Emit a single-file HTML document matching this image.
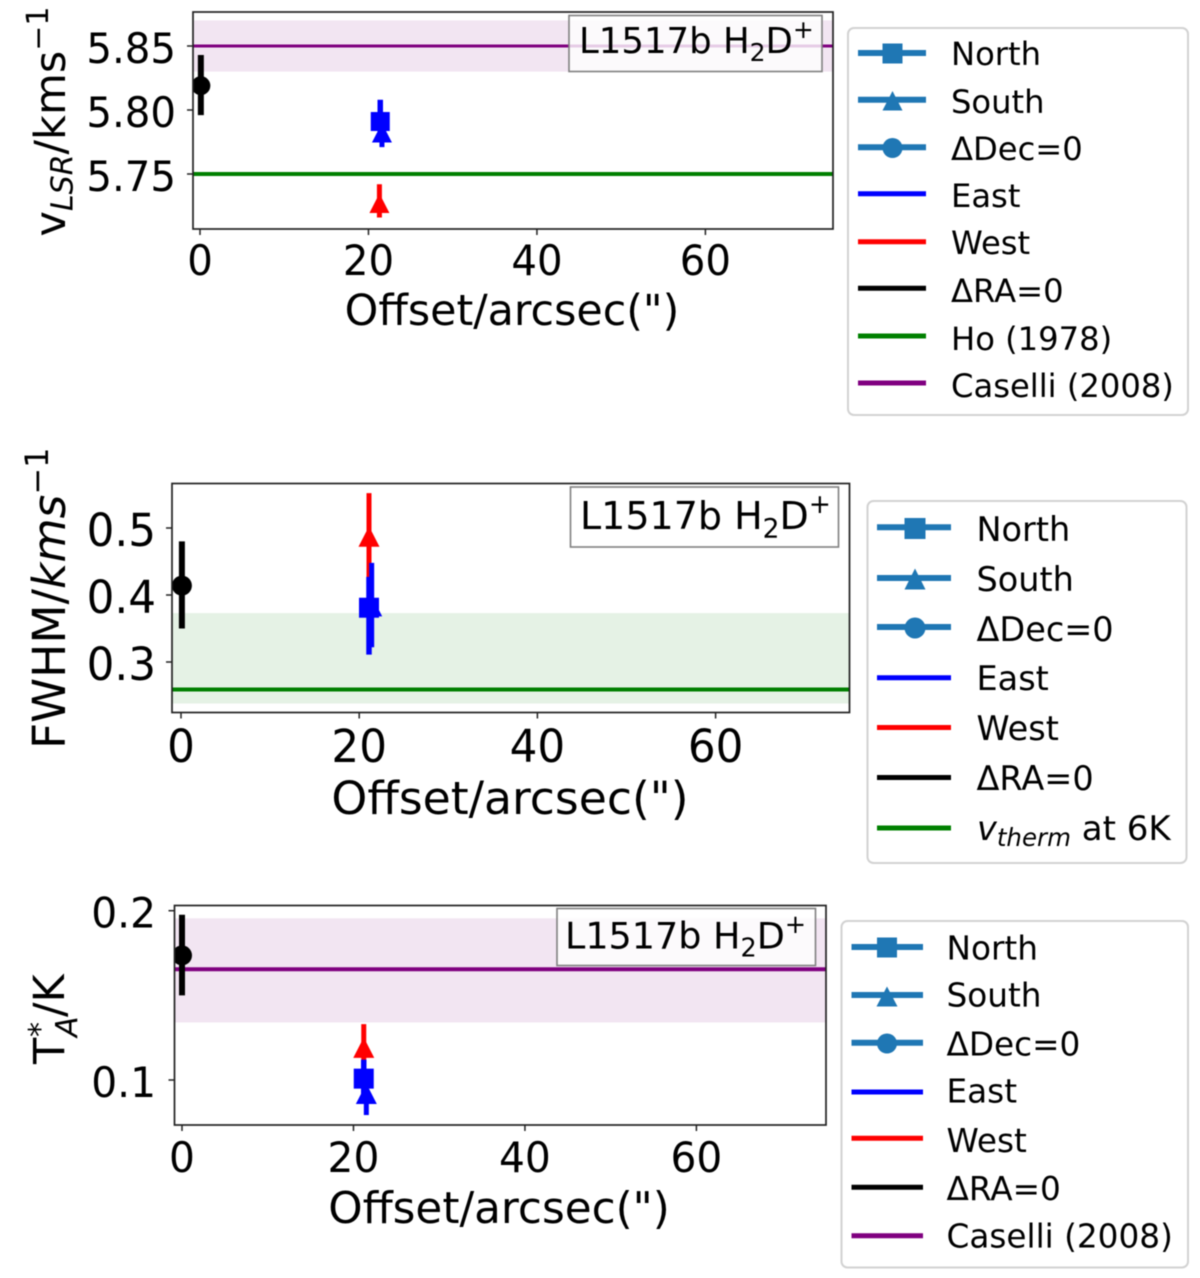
<!DOCTYPE html>
<html lang="en">
<head>
<meta charset="utf-8">
<title>L1517b H2D+ offset profiles</title>
<style>
html,body{margin:0;padding:0;background:#fff;}
svg{display:block;filter:blur(.4px);}
text{font-family:"DejaVu Sans","Liberation Sans",sans-serif;fill:#000;}
.legend-box{fill:#fff;stroke:#d2d2d2;stroke-width:2;}
.note-box{fill:#fff;fill-opacity:.8;stroke:#808080;stroke-width:1.6;}
.spine{fill:none;stroke:#222;stroke-width:1.7;}
</style>
</head>
<body>
<svg id="figure" xmlns="http://www.w3.org/2000/svg" width="1200" height="1278" viewBox="0 0 1200 1278">
<defs>
<clipPath id="clip-vlsr"><rect x="193" y="12" width="640" height="217"/></clipPath>
<clipPath id="clip-fwhm"><rect x="172" y="483" width="678" height="230"/></clipPath>
<clipPath id="clip-ta"><rect x="174.5" y="905" width="651.5" height="220"/></clipPath>
</defs>

<!-- Panel 1 -->
<g>
<g id="vlsr-marks" clip-path="url(#clip-vlsr)"></g>
<g id="vlsr-axes"></g>
<rect class="spine" x="193" y="12" width="640" height="217"/>
<g>
<rect class="note-box" x="569" y="15.5" width="253" height="56"/>
<text x="579" y="53" font-size="35.5">L1517b H<tspan font-size="25" dy="8">2</tspan><tspan dy="-8">D</tspan><tspan font-size="25" dy="-15">+</tspan></text>
</g>
<text transform="translate(65,236.5) rotate(-90)" font-size="43">v<tspan font-size="30" font-style="italic" dy="7.5">LSR</tspan><tspan dy="-7.5">/kms</tspan><tspan font-size="30" dy="-17">−1</tspan></text>
<text x="512" y="325" font-size="42.8" text-anchor="middle">Offset/arcsec(")</text>
</g>

<g>
<rect class="legend-box" x="848" y="28" width="340" height="387" rx="6"/>
<g><line x1="858" x2="926" y1="53" y2="53" stroke="#1f77b4" stroke-width="6"/><rect x="882.5" y="43.5" width="20" height="20" fill="#1f77b4"/><text x="951" y="65" font-size="32.2">North</text></g>
<g><line x1="858" x2="926" y1="99.7" y2="99.7" stroke="#1f77b4" stroke-width="6"/><polygon points="892.5,91 902.5,110.5 882.5,110.5" fill="#1f77b4"/><text x="951" y="113" font-size="32.2">South</text></g>
<g><line x1="858" x2="926" y1="147.3" y2="147.3" stroke="#1f77b4" stroke-width="6"/><circle cx="892.5" cy="148" r="10" fill="#1f77b4"/><text x="951" y="160" font-size="32.2">ΔDec=0</text></g>
<g><line x1="858" x2="926" y1="193.7" y2="193.7" stroke="#0000ff" stroke-width="5"/><text x="951" y="207" font-size="32.2">East</text></g>
<g><line x1="858" x2="926" y1="241.7" y2="241.7" stroke="#ff0000" stroke-width="5"/><text x="951" y="254" font-size="32.2">West</text></g>
<g><line x1="858" x2="926" y1="288.3" y2="288.3" stroke="#000" stroke-width="5"/><text x="951" y="302" font-size="32.2">ΔRA=0</text></g>
<g><line x1="858" x2="926" y1="336" y2="336" stroke="#008000" stroke-width="5"/><text x="951" y="350" font-size="32.2">Ho (1978)</text></g>
<g><line x1="858" x2="926" y1="383" y2="383" stroke="#800080" stroke-width="5"/><text x="951" y="397" font-size="32.2">Caselli (2008)</text></g>
</g>

<!-- Panel 2 -->
<g>
<g id="fwhm-marks" clip-path="url(#clip-fwhm)"></g>
<g id="fwhm-axes"></g>
<rect class="spine" x="172" y="483.5" width="677.5" height="229"/>
<g>
<rect class="note-box" x="570.5" y="487" width="268" height="60"/>
<text x="580" y="529" font-size="38">L1517b H<tspan font-size="26.5" dy="8.5">2</tspan><tspan dy="-8.5">D</tspan><tspan font-size="26.5" dy="-16">+</tspan></text>
</g>
<text transform="translate(65,749) rotate(-90)" font-size="45.5">FWHM/<tspan font-style="italic">kms</tspan><tspan font-size="32" dy="-17">−1</tspan></text>
<text x="510" y="814" font-size="45.7" text-anchor="middle">Offset/arcsec(")</text>
</g>

<g>
<rect class="legend-box" x="867.5" y="501" width="319" height="362" rx="6"/>
<g><line x1="877" x2="951" y1="527.3" y2="527.3" stroke="#1f77b4" stroke-width="6"/><rect x="904.5" y="518" width="21" height="21" fill="#1f77b4"/><text x="976.5" y="541" font-size="33.5">North</text></g>
<g><line x1="877" x2="951" y1="578" y2="578" stroke="#1f77b4" stroke-width="6"/><polygon points="915,568.5 925.5,589.5 904.5,589.5" fill="#1f77b4"/><text x="976.5" y="591" font-size="33.5">South</text></g>
<g><line x1="877" x2="951" y1="627" y2="627" stroke="#1f77b4" stroke-width="6"/><circle cx="915" cy="628" r="10.5" fill="#1f77b4"/><text x="976.5" y="641" font-size="33.5">ΔDec=0</text></g>
<g><line x1="877" x2="951" y1="677.7" y2="677.7" stroke="#0000ff" stroke-width="5"/><text x="976.5" y="690" font-size="33.5">East</text></g>
<g><line x1="877" x2="951" y1="727.5" y2="727.5" stroke="#ff0000" stroke-width="5"/><text x="976.5" y="740" font-size="33.5">West</text></g>
<g><line x1="877" x2="951" y1="777.5" y2="777.5" stroke="#000" stroke-width="5"/><text x="976.5" y="790" font-size="33.5">ΔRA=0</text></g>
<g><line x1="877" x2="951" y1="828" y2="828" stroke="#008000" stroke-width="5"/><text x="977" y="840" font-size="33.5"><tspan font-style="italic">v</tspan><tspan font-style="italic" font-size="24.5" dy="6">therm</tspan><tspan dy="-6" font-size="34"> at 6K</tspan></text></g>
</g>

<!-- Panel 3 -->
<g>
<g id="ta-marks" clip-path="url(#clip-ta)"></g>
<g id="ta-axes"></g>
<rect class="spine" x="174.5" y="905.5" width="651.5" height="219.5"/>
<g>
<rect class="note-box" x="557" y="908.5" width="258.5" height="57"/>
<text x="565" y="948.5" font-size="36.5">L1517b H<tspan font-size="25.5" dy="8">2</tspan><tspan dy="-8">D</tspan><tspan font-size="25.5" dy="-15.5">+</tspan></text>
</g>
<g>
<text transform="translate(64,1064) rotate(-90)" font-size="43">T</text>
<text transform="translate(50,1037) rotate(-90)" font-size="30">*</text>
<text transform="translate(77,1037) rotate(-90)" font-size="30" font-style="italic">A</text>
<text transform="translate(64,1017) rotate(-90)" font-size="43">/K</text>
</g>
<text x="499" y="1223" font-size="43.7" text-anchor="middle">Offset/arcsec(")</text>
</g>

<g>
<rect class="legend-box" x="841.5" y="921" width="346.5" height="346.5" rx="6"/>
<g><line x1="851.5" x2="923" y1="947" y2="947" stroke="#1f77b4" stroke-width="6"/><rect x="877" y="937.5" width="20" height="20" fill="#1f77b4"/><text x="946.5" y="959.5" font-size="32.7">North</text></g>
<g><line x1="851.5" x2="923" y1="995" y2="995" stroke="#1f77b4" stroke-width="6"/><polygon points="887,986.5 897.5,1006.5 876.5,1006.5" fill="#1f77b4"/><text x="946.5" y="1006.7" font-size="32.7">South</text></g>
<g><line x1="851.5" x2="923" y1="1042.7" y2="1042.7" stroke="#1f77b4" stroke-width="6"/><circle cx="887" cy="1043.5" r="10" fill="#1f77b4"/><text x="946.5" y="1055.7" font-size="32.7">ΔDec=0</text></g>
<g><line x1="851.5" x2="923" y1="1092" y2="1092" stroke="#0000ff" stroke-width="5"/><text x="946.5" y="1102.7" font-size="32.7">East</text></g>
<g><line x1="851.5" x2="923" y1="1138.3" y2="1138.3" stroke="#ff0000" stroke-width="5"/><text x="946.5" y="1152" font-size="32.7">West</text></g>
<g><line x1="851.5" x2="923" y1="1187.3" y2="1187.3" stroke="#000" stroke-width="5"/><text x="946.5" y="1200" font-size="32.7">ΔRA=0</text></g>
<g><line x1="851.5" x2="923" y1="1235.7" y2="1235.7" stroke="#800080" stroke-width="5"/><text x="946.5" y="1247.7" font-size="32.7">Caselli (2008)</text></g>
</g>
</svg>

<script>
// Shared x-axis tick labels
const xTickLabels = [0, 20, 40, 60];

// Point identities, shared by all panels: black circle, West triangle, East triangle, East square
const pointNames = ['dra-zero', 'west-south', 'east-south', 'east-north'];

// Panel 1: VLSR
const vlsrOffsets = [0.1, 21.3, 21.6, 21.4];
const vlsrValues = [5.819, 5.727, 5.782, 5.791];
const vlsrErrLow = [5.796, 5.716, 5.771, 5.780];
const vlsrErrHigh = [5.843, 5.742, 5.793, 5.808];
const vlsrYTicks = ['5.75', '5.80', '5.85'];
const vlsrLines = [5.75, 5.85];
const vlsrBandLow = [5.83];
const vlsrBandHigh = [5.87];

// Panel 2: FWHM
const fwhmOffsets = [0.1, 21.1, 21.4, 21.1];
const fwhmValues = [0.414, 0.487, 0.383, 0.381];
const fwhmErrLow = [0.350, 0.420, 0.322, 0.311];
const fwhmErrHigh = [0.480, 0.552, 0.448, 0.427];
const fwhmYTicks = ['0.3', '0.4', '0.5'];
const fwhmLines = [0.259];
const fwhmBandLow = [0.238];
const fwhmBandHigh = [0.373];

// Panel 3: T_A*
const taOffsets = [0.0, 21.2, 21.5, 21.2];
const taValues = [0.1736, 0.119, 0.0917, 0.1008];
const taErrLow = [0.150, 0.105, 0.0793, 0.090];
const taErrHigh = [0.1976, 0.133, 0.104, 0.112];
const taYTicks = ['0.1', '0.2'];
const taLines = [0.1654];
const taBandLow = [0.134];
const taBandHigh = [0.1955];

const NS = 'http://www.w3.org/2000/svg';

function add(parent, tag, attrs) {
  const node = document.createElementNS(NS, tag);
  for (const key in attrs) node.setAttribute(key, attrs[key]);
  parent.appendChild(node);
  return node;
}

// Scale built from two calibrated axis references
function linearScale(v0, p0, v1, p1) {
  return function (v) { return p0 + (v - v0) * (p1 - p0) / (v1 - v0); };
}

function pointStyle(name) {
  if (name === 'dra-zero') return { color: '#000000', shape: 'circle', errWidth: 6 };
  if (name === 'west-south') return { color: '#ff0000', shape: 'triangle', errWidth: 5 };
  if (name === 'east-south') return { color: '#0000ff', shape: 'triangle', errWidth: 5 };
  return { color: '#0000ff', shape: 'square', errWidth: 5.5 };
}

function drawMarker(group, shape, color, px, py, size) {
  const half = size / 2;
  if (shape === 'circle') {
    const circle = add(group, 'circle', { cx: px, cy: py, r: half, fill: color });
    
    
  } else if (shape === 'square') {
    const square = add(group, 'rect', { x: px - half, y: py - half, width: size, height: size, fill: color });
    
    
  } else {
    const points = [px, py - half - 0.5, px + half + 0.5, py + half, px - half - 0.5, py + half].join(' ');
    const triangle = add(group, 'polygon', { points: points, fill: color });
    
    
  }
}

function drawPanel(cfg) {
  const marks = document.getElementById(cfg.id + '-marks');
  const axes = document.getElementById(cfg.id + '-axes');
  const xScale = linearScale(0, cfg.x0, 60, cfg.x60);
  const yScale = linearScale(cfg.yRef[0], cfg.yRef[1], cfg.yRef[2], cfg.yRef[3]);

  cfg.bandLow.forEach(function (low, i) {
    const top = yScale(cfg.bandHigh[i]);
    const band = add(marks, 'rect', { x: cfg.left, y: top, width: cfg.right - cfg.left, height: yScale(low) - top, fill: cfg.bandColor, 'fill-opacity': 0.1 });
    
    
  });

  cfg.lines.forEach(function (value, i) {
    const py = yScale(value);
    const refLine = add(marks, 'line', { x1: cfg.left, x2: cfg.right, y1: py, y2: py, stroke: cfg.lineColors[i], 'stroke-width': cfg.lineWidths[i] });
    
    
  });

  pointNames.forEach(function (name, i) {
    const style = pointStyle(name);
    const px = xScale(cfg.offsets[i]);
    const group = add(marks, 'g', {});
    
    
    const errorBar = add(group, 'line', { x1: px, x2: px, y1: yScale(cfg.errLow[i]), y2: yScale(cfg.errHigh[i]), stroke: style.color, 'stroke-width': style.errWidth });
    
    
    drawMarker(group, style.shape, style.color, px, yScale(cfg.values[i]), cfg.markerSize);
  });

  xTickLabels.forEach(function (label) {
    const px = xScale(label);
    const tick = add(axes, 'line', { x1: px, x2: px, y1: cfg.bottom, y2: cfg.bottom + 6, stroke: '#222', 'stroke-width': 1.5 });
    
    
    const text = add(axes, 'text', { transform: 'translate(' + px + ',' + cfg.xTickBase + ') scale(0.97,1)', 'font-size': cfg.tickFont, 'text-anchor': 'middle' });
    text.textContent = String(label);
    
    
  });

  cfg.yTicks.forEach(function (label) {
    const py = yScale(parseFloat(label));
    const tick = add(axes, 'line', { x1: cfg.left - 6, x2: cfg.left, y1: py, y2: py, stroke: '#222', 'stroke-width': 1.5 });
    
    
    const text = add(axes, 'text', { transform: 'translate(' + cfg.yTickEnd + ',' + (py + cfg.yTickShift) + ') scale(0.97,1)', 'font-size': cfg.tickFont, 'text-anchor': 'end' });
    text.textContent = label;
    
    
  });
}

drawPanel({
  id: 'vlsr', left: 193, right: 833, bottom: 229,
  x0: 200, x60: 705.4, yRef: [5.75, 174, 5.85, 46],
  offsets: vlsrOffsets, values: vlsrValues, errLow: vlsrErrLow, errHigh: vlsrErrHigh,
  lines: vlsrLines, lineColors: ['#008000', '#800080'], lineWidths: [4, 3],
  bandLow: vlsrBandLow, bandHigh: vlsrBandHigh, bandColor: '#800080',
  yTicks: vlsrYTicks, tickFont: 41.5, xTickBase: 275, yTickEnd: 176, yTickShift: 17, markerSize: 19
});
drawPanel({
  id: 'fwhm', left: 172, right: 849.5, bottom: 712.5,
  x0: 181, x60: 715.6, yRef: [0.3, 662, 0.5, 528],
  offsets: fwhmOffsets, values: fwhmValues, errLow: fwhmErrLow, errHigh: fwhmErrHigh,
  lines: fwhmLines, lineColors: ['#008000'], lineWidths: [4],
  bandLow: fwhmBandLow, bandHigh: fwhmBandHigh, bandColor: '#008000',
  yTicks: fwhmYTicks, tickFont: 45, xTickBase: 762, yTickEnd: 156, yTickShift: 18, markerSize: 20
});
drawPanel({
  id: 'ta', left: 174.5, right: 826, bottom: 1125,
  x0: 182, x60: 696.4, yRef: [0.1, 1080, 0.2, 910.7],
  offsets: taOffsets, values: taValues, errLow: taErrLow, errHigh: taErrHigh,
  lines: taLines, lineColors: ['#800080'], lineWidths: [4],
  bandLow: taBandLow, bandHigh: taBandHigh, bandColor: '#800080',
  yTicks: taYTicks, tickFont: 42, xTickBase: 1172, yTickEnd: 156, yTickShift: 17, markerSize: 20
});
</script>
</body>
</html>
